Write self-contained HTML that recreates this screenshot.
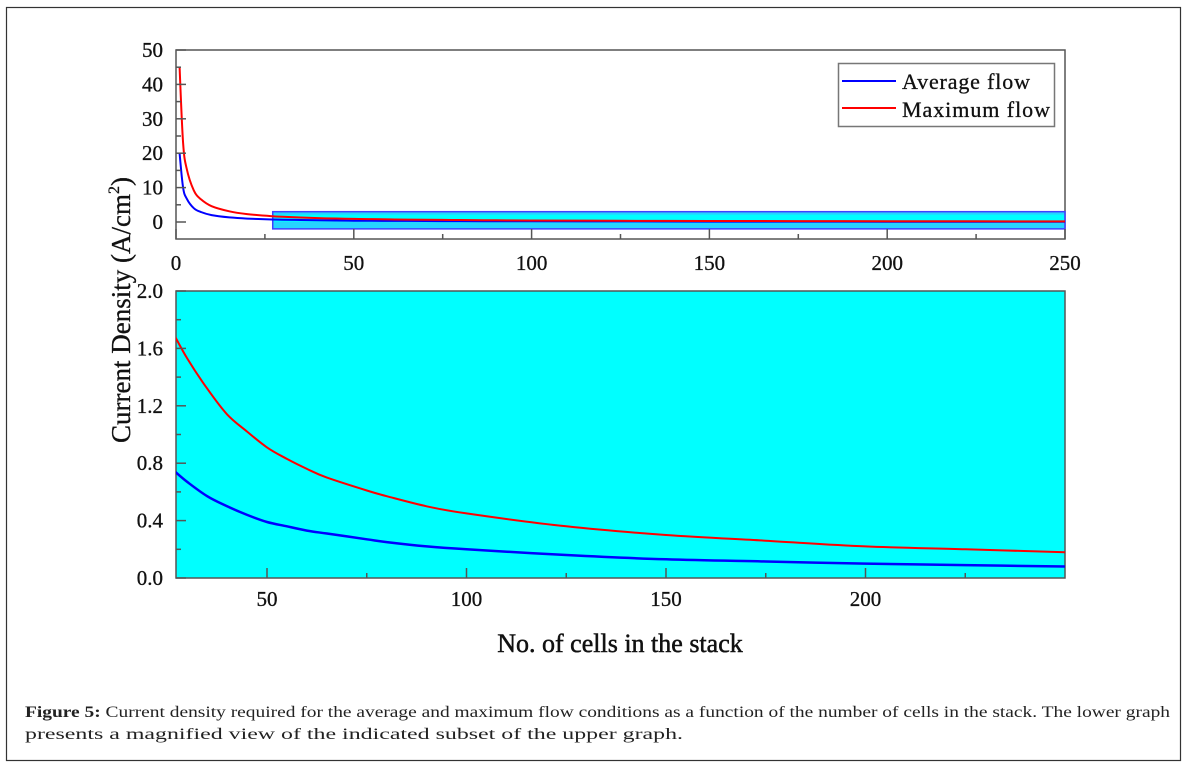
<!DOCTYPE html>
<html><head><meta charset="utf-8"><style>
body{margin:0;background:#fff;}
svg{display:block;font-family:"Liberation Serif",serif;}
</style></head><body>
<svg id="chart" width="1190" height="768" viewBox="0 0 1190 768">
<rect x="6.5" y="7.5" width="1174" height="753" fill="none" stroke="#333" stroke-width="1.2"/>
<g id="g"></g>
<text transform="translate(130,310) rotate(-90)" text-anchor="middle" font-size="27" fill="#111" stroke="#111" stroke-width="0.3">Current Density (A/cm<tspan font-size="16" dy="-11">2</tspan><tspan dy="11">)</tspan></text>
<text x="620" y="652" text-anchor="middle" font-size="26" fill="#111" stroke="#111" stroke-width="0.5">No. of cells in the stack</text>
<g>
<rect x="838.5" y="63.5" width="216" height="63" fill="#fff" stroke="#777" stroke-width="1.5"/>
<line x1="842" y1="81" x2="896" y2="81" stroke="#0000ff" stroke-width="2"/>
<text x="902" y="89" font-size="22" fill="#111" stroke="#111" stroke-width="0.3" textLength="128">Average flow</text>
<line x1="842" y1="108" x2="896" y2="108" stroke="#ff0000" stroke-width="2"/>
<text x="902" y="117" font-size="22" fill="#111" stroke="#111" stroke-width="0.3" textLength="148">Maximum flow</text>
</g>
<text x="25" y="717" font-size="16" fill="#222" textLength="1145" lengthAdjust="spacingAndGlyphs"><tspan font-weight="bold">Figure 5:</tspan> Current density required for the average and maximum flow conditions as a function of the number of cells in the stack. The lower graph</text>
<text x="25" y="739" font-size="16" fill="#222" textLength="658" lengthAdjust="spacingAndGlyphs">presents a magnified view of the indicated subset of the upper graph.</text>
</svg>
<script>
const cells=[1,2,3,5,7,10,15,20,27,30,35,40,45,50,55,60,65,75,80,90,100,125,150,175,200,225,250];
const avgFlow=[20,10,6.8,4,2.9,2,1.35,1.0,0.74,0.67,0.57,0.50,0.44,0.39,0.36,0.33,0.31,0.27,0.25,0.22,0.20,0.16,0.13,0.115,0.10,0.09,0.08];
const maxFlow=[45,23,15.5,9.2,6.6,4.6,3.1,2.3,1.68,1.53,1.32,1.14,1.02,0.91,0.83,0.76,0.70,0.61,0.57,0.50,0.45,0.36,0.30,0.26,0.22,0.20,0.18];
const upperYTicks=[0,10,20,30,40,50];
const upperXTicks=[0,50,100,150,200,250];
const lowerYTicks=[0.0,0.4,0.8,1.2,1.6,2.0];
const lowerXTicks=[50,100,150,200];
const zoomX=[27.2,250];
const zoomY=[-2,3];

const NS='http://www.w3.org/2000/svg';
const g=document.getElementById('g');
function el(t,a,p){const e=document.createElementNS(NS,t);for(const k in a)e.setAttribute(k,a[k]);(p||g).appendChild(e);return e;}
const ux=v=>176+v*(1065-176)/250;
const uy=v=>222-v*(222-50)/50;
const lx=v=>267+(v-50)*(1065-267)/200;
const ly=v=>578-v*(578-291)/2;
function smooth(xs,ys,fx,fy,f){
  const pts=xs.map((x,i)=>[x,ys[i]]).filter(f).map(p=>[fx(p[0]),fy(p[1])]);
  let d='M'+pts[0][0].toFixed(1)+','+pts[0][1].toFixed(1);
  for(let i=0;i<pts.length-1;i++){
    const p0=pts[Math.max(0,i-1)],p1=pts[i],p2=pts[i+1],p3=pts[Math.min(pts.length-1,i+2)];
    const c1=[p1[0]+(p2[0]-p0[0])/6,p1[1]+(p2[1]-p0[1])/6],c2=[p2[0]-(p3[0]-p1[0])/6,p2[1]-(p3[1]-p1[1])/6];
    d+='C'+c1.map(n=>n.toFixed(1)).join(',')+' '+c2.map(n=>n.toFixed(1)).join(',')+' '+p2[0].toFixed(1)+','+p2[1].toFixed(1);
  }
  return d;
}
const tk={fill:'#111',stroke:'#111','stroke-width':0.3,'font-size':21};

let r=el('rect',{x:176,y:291,width:889,height:287,fill:'#00ffff',stroke:'#555','stroke-width':1.5});


let cp=el('clipPath',{id:'lc'});el('rect',{x:176,y:291,width:889,height:287},cp);
let p=el('path',{d:smooth(cells,maxFlow,lx,ly,q=>q[0]>=27),fill:'none',stroke:'#ff0000','stroke-width':2,'clip-path':'url(#lc)'});


p=el('path',{d:smooth(cells,avgFlow,lx,ly,q=>q[0]>=27),fill:'none',stroke:'#0000ff','stroke-width':2.5,'clip-path':'url(#lc)'});


lowerYTicks.forEach((v,i)=>{
  el('line',{x1:176,x2:186,y1:ly(v),y2:ly(v),stroke:'#555','stroke-width':1.5});
  if(i<lowerYTicks.length-1)el('line',{x1:176,x2:181,y1:ly(v+0.2),y2:ly(v+0.2),stroke:'#555','stroke-width':1.5});
  let t=el('text',Object.assign({x:163,y:ly(v)+7,'text-anchor':'end'},tk));t.textContent=v.toFixed(1);
  
  
});
lowerXTicks.forEach(v=>{
  el('line',{x1:lx(v),x2:lx(v),y1:578,y2:568,stroke:'#555','stroke-width':1.5});
  el('line',{x1:lx(v+25),x2:lx(v+25),y1:578,y2:573,stroke:'#555','stroke-width':1.5});
  let t=el('text',Object.assign({x:lx(v),y:606,'text-anchor':'middle'},tk));t.textContent=v;
  
  
});
r=el('rect',{x:176,y:50,width:889,height:189,fill:'#fff',stroke:'#555','stroke-width':1.5});


r=el('rect',{x:ux(zoomX[0]),y:uy(zoomY[1]),width:ux(zoomX[1])-ux(zoomX[0]),height:uy(zoomY[0])-uy(zoomY[1]),fill:'#00ccff','fill-opacity':0.85,stroke:'#4040ff','stroke-width':1.5});


el('rect',{x:ux(zoomX[0])+1,y:uy(zoomY[1])+3,width:ux(zoomX[1])-ux(zoomX[0])-2,height:7,fill:'#00ffff'});
p=el('path',{d:smooth(cells,avgFlow,ux,uy,()=>true),fill:'none',stroke:'#0000ff','stroke-width':2});


p=el('path',{d:smooth(cells,maxFlow,ux,uy,()=>true),fill:'none',stroke:'#ff0000','stroke-width':2});


upperYTicks.forEach((v,i)=>{
  el('line',{x1:176,x2:186,y1:uy(v),y2:uy(v),stroke:'#555','stroke-width':1.5});
  if(i<upperYTicks.length-1)el('line',{x1:176,x2:181,y1:uy(v+5),y2:uy(v+5),stroke:'#555','stroke-width':1.5});
  let t=el('text',Object.assign({x:163,y:uy(v)+7,'text-anchor':'end'},tk));t.textContent=v;
  
  
});
upperXTicks.forEach((v,i)=>{
  el('line',{x1:ux(v),x2:ux(v),y1:239,y2:229,stroke:'#555','stroke-width':1.5});
  if(i<upperXTicks.length-1)el('line',{x1:ux(v+25),x2:ux(v+25),y1:239,y2:234,stroke:'#555','stroke-width':1.5});
  let t=el('text',Object.assign({x:ux(v),y:270,'text-anchor':'middle'},tk));t.textContent=v;
  
  
});
</script>
</body></html>
